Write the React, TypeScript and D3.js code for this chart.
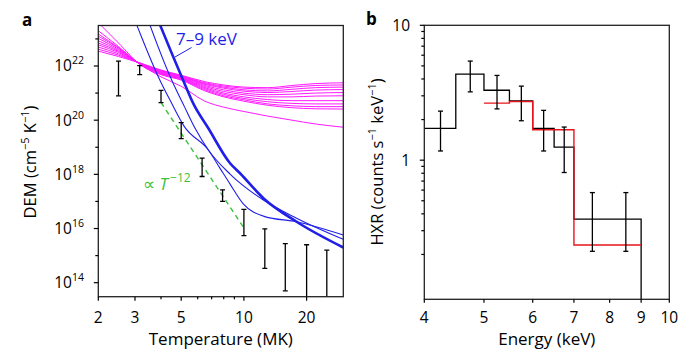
import React from 'react';
import * as d3 from 'd3';

// ---------- Panel a data ----------
const demTemps = [2.5, 3.16, 4.0, 5.0, 6.3, 7.9, 10, 12.6, 15.8, 20, 25];
const demUpperLog10 = [22.18, 22.01, 21.1, 19.91, 18.6, 17.43, 16.71, 15.99, 15.44, 15.4, 15.2];
const demLowerLog10 = [20.9, 21.68, 20.65, 19.32, 17.92, 17.0, 15.74, 14.53, 13.7, 13.0, 13.0];

const magentaTemps = [2, 2.5, 3.2, 4, 5, 6.5, 8, 10, 13, 17, 22, 30];
const magentaCurvesLog10 = [
  [22.55, 22.35, 22.10, 21.85, 21.66, 21.42, 21.30, 21.22, 21.20, 21.28, 21.35, 21.38],
  [22.62, 22.40, 22.10, 21.84, 21.64, 21.38, 21.26, 21.18, 21.15, 21.22, 21.28, 21.30],
  [22.70, 22.45, 22.09, 21.82, 21.62, 21.35, 21.22, 21.12, 21.08, 21.14, 21.20, 21.22],
  [22.78, 22.50, 22.08, 21.80, 21.60, 21.32, 21.18, 21.07, 21.02, 21.06, 21.11, 21.13],
  [22.85, 22.54, 22.07, 21.78, 21.58, 21.28, 21.12, 21.00, 20.94, 20.96, 21.00, 21.02],
  [22.93, 22.58, 22.07, 21.76, 21.56, 21.24, 21.06, 20.94, 20.86, 20.86, 20.89, 20.90],
  [23.02, 22.62, 22.06, 21.74, 21.54, 21.20, 21.00, 20.86, 20.76, 20.72, 20.72, 20.72],
  [23.10, 22.66, 22.05, 21.72, 21.52, 21.16, 20.95, 20.80, 20.68, 20.62, 20.60, 20.60],
  [23.30, 22.72, 22.04, 21.70, 21.50, 21.12, 20.90, 20.75, 20.60, 20.53, 20.50, 20.50],
  [23.60, 22.85, 22.03, 21.68, 21.48, 21.08, 20.86, 20.70, 20.55, 20.46, 20.42, 20.41],
  [23.18, 22.68, 22.05, 21.60, 21.25, 20.70, 20.48, 20.32, 20.15, 20.00, 19.86, 19.74],
];

const blueThinATemps = [2.92, 3.06, 3.88, 4.5, 5.18, 6.75, 7.67, 8.58, 9.93, 12.6, 17.9, 30];
const blueThinALog10 = [23.9, 23.51, 21.605, 20.623, 19.76, 18.9, 18.23, 17.64, 16.91, 16.44, 16.25, 15.76];
const blueThinBTemps = [3.4, 3.54, 4.5, 5.18, 5.83, 6.75, 8.58, 12.4, 17.9, 30];
const blueThinBLog10 = [23.88, 23.51, 21.48, 20.5, 19.7, 18.9, 18.01, 17.05, 16.38, 15.6];
const blueThickTemps = [3.8, 3.96, 5.06, 5.71, 6.75, 8.58, 9.58, 12.4, 17.9, 30];
const blueThickLog10 = [23.85, 23.51, 21.55, 20.62, 19.7, 18.41, 18.04, 17.12, 16.25, 15.3];

const powerLawTemps = [4.0, 9.9];
const powerLawLog10 = [20.65, 16.07];

const aXMajor = [2, 3, 5, 10, 20];
const aXMinor = [4, 6, 7, 8, 9];
const aYMajorExp = [14, 16, 18, 20, 22];
const aYMinorExp = [15, 17, 19, 21, 23];

// ---------- Panel b data ----------
const binEdges = [4, 4.5, 5, 5.5, 6, 6.5, 7, 8, 9];
const hxrCounts = [1.72, 4.35, 3.3, 2.75, 1.72, 1.25, 0.365, 0.365];
const hxrUpper = [2.31, 5.43, 4.25, 3.54, 2.34, 1.76, 0.575, 0.575];
const hxrLower = [1.17, 3.21, 2.4, 1.96, 1.17, 0.81, 0.211, 0.211];
const modelEdges = [5, 5.5, 6, 6.5, 7, 8, 9];
const modelCounts = [2.65, 2.72, 1.68, 1.68, 0.235, 0.235];

const bXTicks = [4, 5, 6, 7, 8, 9, 10];
const bYMajor = [1, 10];
const bYMinor = [0.2, 0.3, 0.4, 0.5, 0.6, 0.7, 0.8, 0.9, 2, 3, 4, 5, 6, 7, 8, 9];

const FONT = "'Open Sans', 'DejaVu Sans', sans-serif";
const MAGENTA = '#ff1aff';
const BLUE = '#1f1fe8';
const GREEN = '#3cc23c';
const RED = '#e8141c';

export default function App() {
  // panel a scales
  const ax = d3.scaleLog().domain([2, 30]).range([98.3, 343.3]);
  const ay = d3.scaleLog().domain([Math.pow(10, 13.483), Math.pow(10, 23.495)]).range([296.7, 25.5]);
  const aL = ax.range(), aT = ay.range();
  const line = d3
    .line<[number, number]>()
    .x((d) => ax(d[0]))
    .y((d) => ay(Math.pow(10, d[1])))
    .curve(d3.curveMonotoneX);
  const lineLin = d3
    .line<[number, number]>()
    .x((d) => ax(d[0]))
    .y((d) => ay(Math.pow(10, d[1])));

  // panel b scales
  const bx = d3.scaleLog().domain([4, 10]).range([424.3, 669.3]);
  const by = d3.scaleLog().domain([0.093, 10]).range([299.3, 25.3]);

  let blackPath = `M${bx(binEdges[0])},${by(hxrCounts[0])}`;
  hxrCounts.forEach((v, i) => {
    if (i > 0) blackPath += `V${by(v)}`;
    blackPath += `H${bx(binEdges[i + 1])}`;
  });
  blackPath += `V${by.range()[0]}`;
  let redPath = `M${bx(modelEdges[0])},${by(modelCounts[0])}`;
  modelCounts.forEach((v, i) => {
    if (i > 0) redPath += `V${by(v)}`;
    redPath += `H${bx(modelEdges[i + 1])}`;
  });

  const zip = (a: number[], b: number[]) => a.map((t, i) => [t, b[i]] as [number, number]);

  return (
    <svg width={690} height={350} style={{ display: 'block', position: 'absolute', left: 0, top: 0 }} fontFamily={FONT}>
      <rect width={690} height={350} fill="#fff" />
      <defs>
        <clipPath id="clipA">
          <rect x={aL[0]} y={aT[1]} width={aL[1] - aL[0]} height={aT[0] - aT[1]} />
        </clipPath>
      </defs>

      {/* ---------------- Panel a ---------------- */}
      <text x={22} y={26} fontSize={17} fontWeight="bold">a</text>
      <g clipPath="url(#clipA)">
        {magentaCurvesLog10.map((c, i) => (
          <path key={i} d={line(zip(magentaTemps, c)) || ''} fill="none" stroke={MAGENTA} strokeWidth={1} />
        ))}
        <path d={line(zip(blueThinATemps, blueThinALog10)) || ''} fill="none" stroke={BLUE} strokeWidth={1.1} />
        <path d={line(zip(blueThinBTemps, blueThinBLog10)) || ''} fill="none" stroke={BLUE} strokeWidth={1.1} />
        <path d={line(zip(blueThickTemps, blueThickLog10)) || ''} fill="none" stroke={BLUE} strokeWidth={2.6} />
        <path d={lineLin(zip(powerLawTemps, powerLawLog10)) || ''} fill="none" stroke={GREEN} strokeWidth={1.4} strokeDasharray="5,4" />
        {demTemps.map((t, i) => {
          const x = ax(t);
          const y1 = ay(Math.pow(10, demUpperLog10[i]));
          const y2 = ay(Math.pow(10, demLowerLog10[i]));
          return (
            <g key={i} stroke="#000" strokeWidth={1.3}>
              <line x1={x} x2={x} y1={y1} y2={y2} />
              <line x1={x - 2.5} x2={x + 2.5} y1={y1} y2={y1} />
              <line x1={x - 2.5} x2={x + 2.5} y1={y2} y2={y2} />
            </g>
          );
        })}
      </g>
      {/* leader + labels */}
      <line x1={191.5} y1={47.5} x2={175} y2={57} stroke={BLUE} strokeWidth={1} />
      <text x={176} y={45} fontSize={17} fill={BLUE}>7–9 keV</text>
      <text x={143} y={190} fontSize={17} fill={GREEN}>
        <tspan>∝ </tspan>
        <tspan fontStyle="italic">T</tspan>
        <tspan fontSize={12} dy={-8} dx={2}>−12</tspan>
      </text>

      {/* frame a */}
      <rect x={aL[0]} y={aT[1]} width={aL[1] - aL[0]} height={aT[0] - aT[1]} fill="none" stroke="#222" strokeWidth={1.3} />
      {aXMajor.map((t) => (
        <g key={t}>
          <line x1={ax(t)} x2={ax(t)} y1={aT[0]} y2={aT[0] + 4} stroke="#000" strokeWidth={1.2} />
          <text x={ax(t)} y={323} fontSize={15.5} textAnchor="middle">{t}</text>
        </g>
      ))}
      {aXMinor.map((t) => (
        <line key={t} x1={ax(t)} x2={ax(t)} y1={aT[0]} y2={aT[0] + 2.5} stroke="#000" strokeWidth={1.2} />
      ))}
      {aYMajorExp.map((e) => (
        <g key={e}>
          <line x1={aL[0] - 4.5} x2={aL[0]} y1={ay(Math.pow(10, e))} y2={ay(Math.pow(10, e))} stroke="#000" strokeWidth={1.2} />
          <text x={84} y={ay(Math.pow(10, e)) + 5.5} fontSize={15.5} textAnchor="end">
            <tspan>10</tspan>
            <tspan fontSize={10.5} dy={-7}>{e}</tspan>
          </text>
        </g>
      ))}
      {aYMinorExp.map((e) => (
        <line key={e} x1={aL[0] - 3} x2={aL[0]} y1={ay(Math.pow(10, e))} y2={ay(Math.pow(10, e))} stroke="#000" strokeWidth={1.2} />
      ))}
      <text x={220.8} y={345} fontSize={17} textAnchor="middle">Temperature (MK)</text>
      <text transform="translate(36,162) rotate(-90)" fontSize={16.5} textAnchor="middle">
        <tspan>DEM (cm</tspan>
        <tspan fontSize={11} dy={-7}>−5</tspan>
        <tspan dy={7}> K</tspan>
        <tspan fontSize={11} dy={-7}>−1</tspan>
        <tspan dy={7}>)</tspan>
      </text>

      {/* ---------------- Panel b ---------------- */}
      <text x={366} y={25} fontSize={17} fontWeight="bold">b</text>
      <path d={blackPath} fill="none" stroke="#000" strokeWidth={1.3} />
      <path d={redPath} fill="none" stroke={RED} strokeWidth={1.4} />
      {hxrCounts.map((_, i) => {
        const x = bx((binEdges[i] + binEdges[i + 1]) / 2);
        const y1 = by(hxrUpper[i]);
        const y2 = by(hxrLower[i]);
        return (
          <g key={i} stroke="#000" strokeWidth={1.3}>
            <line x1={x} x2={x} y1={y1} y2={y2} />
            <line x1={x - 2.5} x2={x + 2.5} y1={y1} y2={y1} />
            <line x1={x - 2.5} x2={x + 2.5} y1={y2} y2={y2} />
          </g>
        );
      })}
      <rect x={bx.range()[0]} y={by.range()[1]} width={bx.range()[1] - bx.range()[0]} height={by.range()[0] - by.range()[1]} fill="none" stroke="#222" strokeWidth={1.3} />
      {bXTicks.map((t) => (
        <g key={t}>
          <line x1={bx(t)} x2={bx(t)} y1={by.range()[0]} y2={by.range()[0] + 3.5} stroke="#000" strokeWidth={1.2} />
          <text x={bx(t)} y={323} fontSize={15.5} textAnchor="middle">{t}</text>
        </g>
      ))}
      {bYMajor.map((v) => (
        <g key={v}>
          <line x1={bx.range()[0] - 4.5} x2={bx.range()[0]} y1={by(v)} y2={by(v)} stroke="#000" strokeWidth={1.2} />
          <text x={410} y={by(v) + 5.5} fontSize={15.5} textAnchor="end">{v}</text>
        </g>
      ))}
      {bYMinor.map((v) => (
        <line key={v} x1={bx.range()[0] - 3} x2={bx.range()[0]} y1={by(v)} y2={by(v)} stroke="#000" strokeWidth={1.2} />
      ))}
      <text x={546.8} y={345} fontSize={17} textAnchor="middle">Energy (keV)</text>
      <text transform="translate(383,162) rotate(-90)" fontSize={16.5} textAnchor="middle">
        <tspan>HXR (counts s</tspan>
        <tspan fontSize={11} dy={-7}>−1</tspan>
        <tspan dy={7}> keV</tspan>
        <tspan fontSize={11} dy={-7}>−1</tspan>
        <tspan dy={7}>)</tspan>
      </text>
    </svg>
  );
}
